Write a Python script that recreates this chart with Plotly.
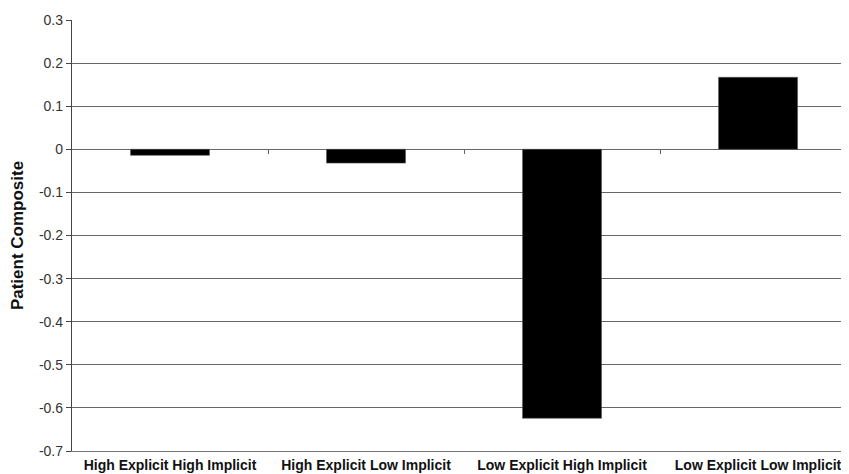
import plotly.graph_objects as go

categories = ["High Explicit High Implicit", "High Explicit Low Implicit",
              "Low Explicit High Implicit", "Low Explicit Low Implicit"]
values = [-0.014, -0.032, -0.624, 0.167]
y_ticks = [0.3, 0.2, 0.1, 0, -0.1, -0.2, -0.3, -0.4, -0.5, -0.6, -0.7]
y_tick_labels = ["0.3", "0.2", "0.1", "0", "-0.1", "-0.2", "-0.3", "-0.4", "-0.5", "-0.6", "-0.7"]

n = len(categories)
boundaries = [i + 0.5 for i in range(n - 1)]

fig = go.Figure()
fig.add_trace(go.Bar(
    x=list(range(n)), y=values,
    marker=dict(color="black", line=dict(color="#555555", width=0.6)),
    showlegend=False, hoverinfo="skip",
))
# invisible trace to hold the axis drawn at zero (category boundary ticks)
fig.add_trace(go.Scatter(x=[0], y=[0], xaxis="x2", mode="markers",
                         marker=dict(opacity=0), showlegend=False, hoverinfo="skip"))

y_min, y_max = -0.7, 0.3
zero_pos = (0 - y_min) / (y_max - y_min)

# page body has an 8px default margin, so the figure is sized to end at the window edge
fig.update_layout(
    width=841, height=466,
    margin=dict(l=64, r=0, t=12, b=23),
    paper_bgcolor="white", plot_bgcolor="white",
    bargap=0.597,
    font=dict(family="Liberation Sans, Arial, sans-serif", color="#222222"),
    xaxis=dict(
        range=[-0.5, 3.464], tickmode="array",
        tickvals=list(range(n)), ticktext=categories,
        ticks="", showgrid=False, zeroline=False, automargin=False,
        showline=True, linecolor="#777777", linewidth=1.3,
        tickfont=dict(size=14, color="#111111",
                      family="Liberation Sans, Arial, sans-serif",
                      weight="bold"),
        ticklabelstandoff=1,
    ),
    xaxis2=dict(
        overlaying="x", anchor="free", position=zero_pos, side="bottom",
        range=[-0.5, 3.464], tickmode="array", tickvals=boundaries,
        ticktext=["" for _ in boundaries], ticks="outside", ticklen=4,
        tickcolor="#666666", tickwidth=1, automargin=False,
        showline=False, showgrid=False, zeroline=False, showticklabels=False,
    ),
    yaxis=dict(
        range=[y_min, y_max], tickmode="array", automargin=False,
        tickvals=y_ticks, ticktext=y_tick_labels,
        ticks="outside", ticklen=5, tickcolor="#444444", tickwidth=1,
        showline=True, linecolor="#444444", linewidth=1.3,
        showgrid=True, gridcolor="#666666", gridwidth=1.2,
        zeroline=True, zerolinecolor="#666666", zerolinewidth=1.2,
        tickfont=dict(size=14, color="#333333"),
        title=dict(text="Patient Composite", standoff=10,
                   font=dict(size=17, color="#111111", weight="bold")),
    ),
)

fig.write_html("out.html")
